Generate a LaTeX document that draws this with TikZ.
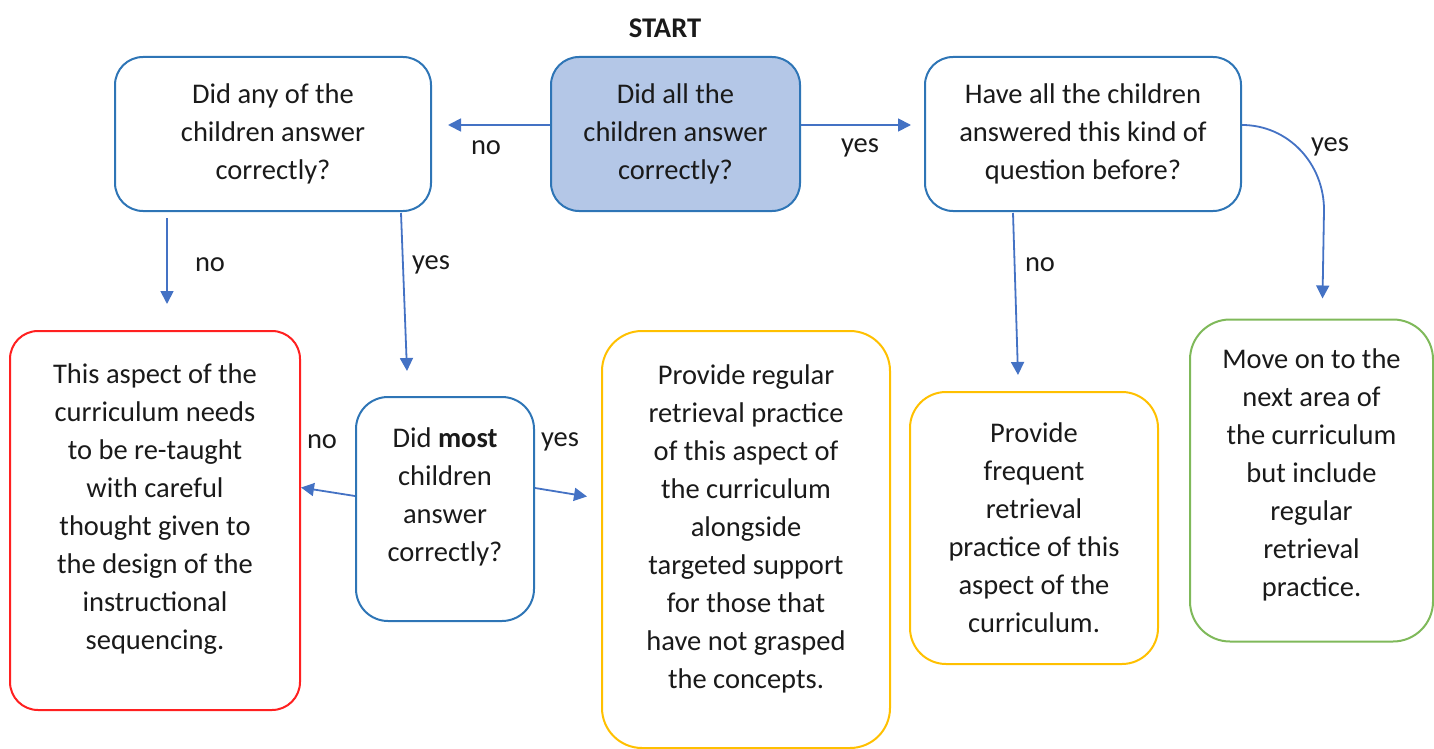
\documentclass[tikz,border=0pt]{standalone}
\usepackage{fontspec}
\setmainfont{Carlito}
\usetikzlibrary{arrows.meta}
\definecolor{boxblue}{HTML}{2E75B6}
\definecolor{fillblue}{HTML}{B4C7E7}
\definecolor{arrblue}{HTML}{4472C4}
\definecolor{boxred}{HTML}{FF2020}
\definecolor{boxyellow}{HTML}{FFC000}
\definecolor{boxgreen}{HTML}{7FB95A}
\definecolor{txt}{HTML}{1A1A1A}
\tikzset{
  box/.style={draw, line width=2pt, rounded corners=28pt, align=center, inner sep=0pt,
    text=txt, font=\fontsize{28.5}{38}\selectfont},
  arr/.style={draw=arrblue, line width=1.8pt, -{Triangle[length=13pt,width=13pt]}},
  lab/.style={text=txt, font=\fontsize{28.5}{32}\selectfont, inner sep=0pt}
}
\begin{document}
\begin{tikzpicture}[x=1pt,y=-1pt]
\useasboundingbox (0,0) rectangle (1434,749);
\node[lab, font=\fontsize{28.5}{32}\selectfont\bfseries] (start) at (665,28) {START};
\node[box, draw=boxblue, fill=fillblue, minimum width=249pt, minimum height=154pt] (q0) at (675.5,134) {Did all the\\children answer\\correctly?};
\node[box, draw=boxblue, minimum width=316pt, minimum height=154pt] (q1) at (273,134) {Did any of the\\children answer\\correctly?};
\node[box, draw=boxblue, minimum width=316pt, minimum height=154pt] (q2) at (1083,134) {Have all the children\\answered this kind of\\question before?};
\node[box, draw=boxred, minimum width=290pt, minimum height=379pt, text depth=28pt] (red) at (155,520.5) {This aspect of the\\curriculum needs\\to be re-taught\\with careful\\thought given to\\the design of the\\instructional\\sequencing.};
\node[box, draw=boxblue, minimum width=178pt, minimum height=224pt, rounded corners=32pt, text depth=28pt] (most) at (445,509) {Did \textbf{most}\\children\\answer\\correctly?};
\node[box, draw=boxyellow, minimum width=288pt, minimum height=417pt, rounded corners=40pt, text depth=26pt] (y1) at (746,539.5) {Provide regular\\retrieval practice\\of this aspect of\\the curriculum\\alongside\\targeted support\\for those that\\have not grasped\\the concepts.};
\node[box, draw=boxyellow, minimum width=248pt, minimum height=272pt, rounded corners=36pt] (y2) at (1034,528) {Provide\\frequent\\retrieval\\practice of this\\aspect of the\\curriculum.};
\node[box, draw=boxgreen, minimum width=243pt, minimum height=322pt, rounded corners=40pt, text depth=16pt] (green) at (1311.5,480.5) {Move on to the\\next area of\\the curriculum\\but include\\regular\\retrieval\\practice.};
% connectors
\draw[arr] ([yshift=9pt]q0.west) -- ([xshift=16pt,yshift=9pt]q1.east);
\draw[arr] ([yshift=9pt]q0.east) -- ([xshift=-13pt,yshift=9pt]q2.west);
\draw[arr] ([xshift=-106pt,yshift=-6pt]q1.south) -- ([xshift=12pt,yshift=26pt]red.north);
\draw[arr] ([xshift=128pt,yshift=-1pt]q1.south) -- ([xshift=-38pt,yshift=25pt]most.north);
\draw[arr] ([xshift=-70pt,yshift=-1pt]q2.south) -- ([xshift=-16pt,yshift=16pt]y2.north);
\draw[arr] ([yshift=9pt]q2.east) to[out=0,in=90] ++(82,85) -- ([xshift=11pt,yshift=20pt]green.north);
\draw[arr] ([yshift=13pt]most.west) -- ([yshift=33pt]red.east);
\draw[arr] ([yshift=21pt]most.east) -- ([xshift=-14pt,yshift=43pt]y1.west);
% labels
\node[lab] (l1) at (486,148) {no};
\node[lab] (l2) at (860,148) {yes};
\node[lab] (l3) at (210,265) {no};
\node[lab] (l4) at (431,265) {yes};
\node[lab] (l5) at (1040,265) {no};
\node[lab] (l6) at (1330,147) {yes};
\node[lab] (l7) at (322,442) {no};
\node[lab] (l8) at (560,442) {yes};
\end{tikzpicture}
\end{document}
